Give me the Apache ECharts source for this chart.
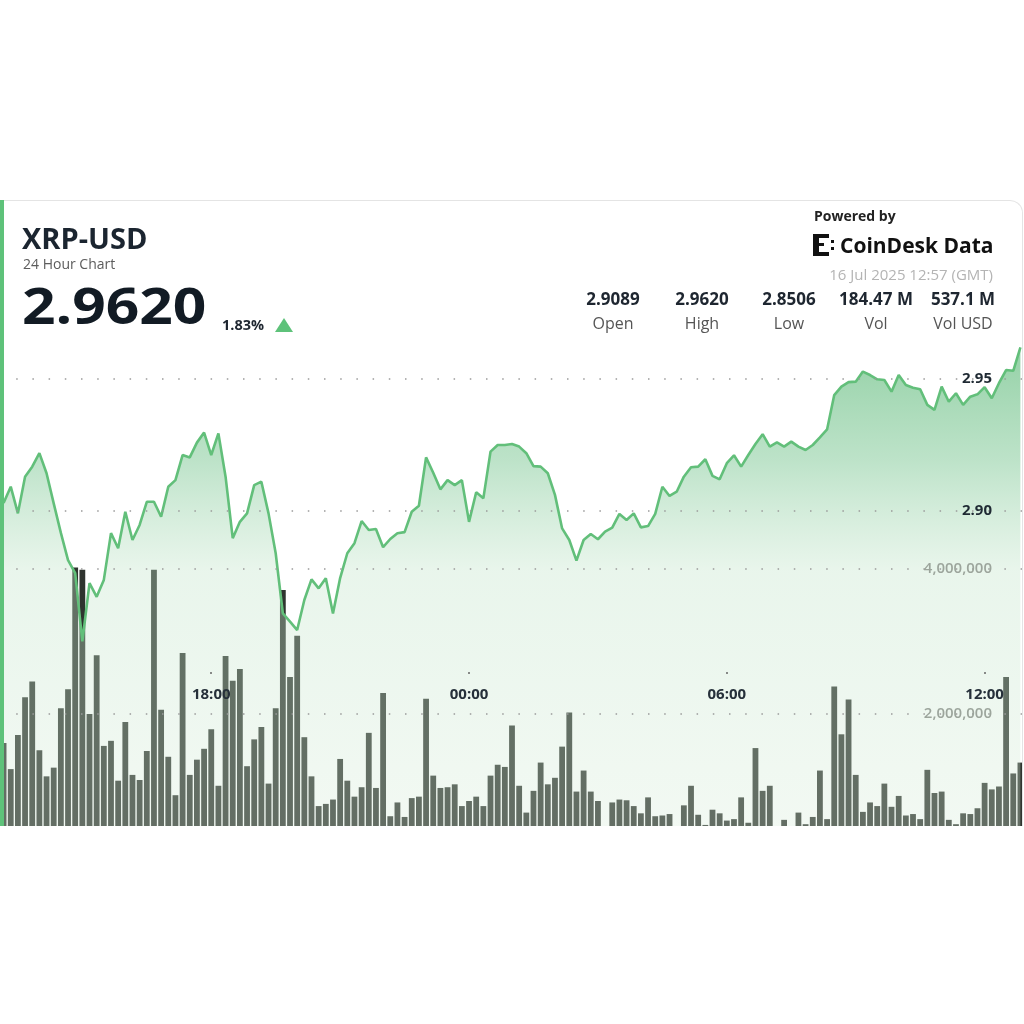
<!DOCTYPE html>
<html>
<head>
<meta charset="utf-8">
<title>XRP-USD 24 Hour Chart</title>
<script src="https://cdn.jsdelivr.net/npm/echarts@6/dist/echarts.min.js"></script>
<style>
    html, body {
        margin: 0;
        padding: 0;
        background: #ffffff;
    }
    .card {
        position: absolute;
        left: 0;
        top: 200px;
        width: 1022px;
        height: 626px;
        overflow: hidden;
        border-top-right-radius: 13px;
    }
    .card .chart-root {
        position: absolute;
        left: 0;
        top: -200px;
        width: 1024px;
        height: 1024px;
    }
    .frame {
        position: absolute;
        left: 0;
        top: 200px;
        width: 1023px;
        height: 626px;
        box-sizing: border-box;
        border-top: 1px solid #e4e4e4;
        border-right: 1px solid #e4e4e4;
        border-top-right-radius: 13px;
        pointer-events: none;
    }
    .stripe {
        position: absolute;
        left: 0;
        top: 200px;
        width: 4px;
        height: 626px;
        background: #5ec27a;
    }
</style>
</head>
<body>
<div class="card"><div class="chart-root" id="chart_dom"></div></div>
<div class="frame"></div>
<div class="stripe"></div>
<script>
// 10 minute candles, first one at 13:10 the day before
const startMinute = 13 * 60 + 10
const stepMinutes = 10

// close price of each 10 min slot
const prices = [
    2.9030, 2.9092, 2.8991, 2.9130, 2.9168, 2.9219, 2.9143, 2.9029, 2.8917, 2.8814,
    2.8765, 2.8506, 2.8727, 2.8675, 2.8739, 2.8916, 2.8859, 2.8997, 2.8890, 2.8947,
    2.9035, 2.9035, 2.8978, 2.9092, 2.9117, 2.9212, 2.9203, 2.9259, 2.9297, 2.9212,
    2.9294, 2.9130, 2.8897, 2.8959, 2.8991, 2.9098, 2.9111, 2.8991, 2.8840, 2.8612,
    2.8581, 2.8549, 2.8663, 2.8741, 2.8707, 2.8745, 2.8612, 2.8746, 2.8840, 2.8878,
    2.8962, 2.8928, 2.8932, 2.8863, 2.8894, 2.8916, 2.8920, 2.8997, 2.9020, 2.9203,
    2.9145, 2.9082, 2.9117, 2.9098, 2.9117, 2.8959, 2.9071, 2.9048, 2.9225, 2.9250,
    2.9250, 2.9254, 2.9244, 2.9219, 2.9170, 2.9168, 2.9143, 2.9061, 2.8934, 2.8890,
    2.8812, 2.8890, 2.8913, 2.8893, 2.8922, 2.8937, 2.8989, 2.8966, 2.8991, 2.8938,
    2.8943, 2.8989, 2.9092, 2.9057, 2.9073, 2.9130, 2.9166, 2.9168, 2.9196, 2.9133,
    2.9120, 2.9181, 2.9211, 2.9168, 2.9212, 2.9254, 2.9291, 2.9244, 2.9260, 2.9244,
    2.9263, 2.9244, 2.9231, 2.9250, 2.9279, 2.9309, 2.9439, 2.9471, 2.9488, 2.9490,
    2.9528, 2.9515, 2.9499, 2.9496, 2.9452, 2.9515, 2.9477, 2.9467, 2.9461, 2.9402,
    2.9383, 2.9471, 2.9414, 2.9446, 2.9402, 2.9433, 2.9442, 2.9469, 2.9427, 2.9484,
    2.9534, 2.9531, 2.9620,
]

// traded volume of each slot (XRP)
const volumes = [
    1600000, 1240000, 1710000, 2230000, 2450000, 1500000, 1140000, 1260000, 2080000, 2340000,
    4020000, 3990000, 2000000, 2810000, 1560000, 1630000, 1080000, 1890000, 1160000, 1090000,
    1490000, 3990000, 2060000, 1410000, 880000, 2840000, 1160000, 1370000, 1520000, 1790000,
    1010000, 2800000, 2460000, 2620000, 1280000, 1650000, 1820000, 1040000, 2080000, 3710000,
    2510000, 3080000, 1680000, 1140000, 730000, 760000, 820000, 1380000, 1080000, 860000,
    990000, 1740000, 980000, 2290000, 590000, 780000, 580000, 840000, 860000, 2210000,
    1150000, 980000, 990000, 1030000, 730000, 800000, 860000, 730000, 1150000, 1300000,
    1270000, 1840000, 1010000, 640000, 940000, 1330000, 1030000, 1120000, 1550000, 2020000,
    930000, 1220000, 930000, 800000, 400000, 780000, 820000, 810000, 730000, 630000,
    850000, 590000, 600000, 620000, 450000, 740000, 1010000, 610000, 470000, 680000,
    630000, 530000, 550000, 850000, 500000, 1530000, 940000, 1010000, 350000, 540000,
    400000, 640000, 480000, 580000, 1220000, 550000, 2380000, 1720000, 2200000, 1160000,
    650000, 780000, 730000, 1040000, 720000, 870000, 600000, 620000, 550000, 1230000,
    910000, 930000, 540000, 480000, 630000, 620000, 700000, 1050000, 960000, 1000000,
    2510000, 1180000, 1330000,
]

const timeLabels = ['18:00', '00:00', '06:00', '12:00']
const priceTicks = [2.90, 2.95]
const volumeTicks = [2000000, 4000000]

const statValues = ['2.9089', '2.9620', '2.8506', '184.47 M', '537.1 M']
const statLabels = ['Open', 'High', 'Low', 'Vol', 'Vol USD']

// slot times as category names
const times = volumes.map((v, i) => {
    const m = (startMinute + i * stepMinutes) % (24 * 60)
    const hh = String(Math.floor(m / 60)).padStart(2, '0')
    const mm = String(m % 60).padStart(2, '0')
    return hh + ':' + mm
})

const FONT = '"Open Sans", "Noto Sans", sans-serif'
const statX = [613, 702, 789, 876, 963]

function showTime(index, value) {
    return timeLabels.indexOf(value) !== -1
}

const header = [
    { type: 'text', x: 22, y: 241, style: { text: 'XRP-USD', font: 'bold 29px ' + FONT, fill: '#1b2530', textVerticalAlign: 'middle' } },
    { type: 'text', x: 23, y: 265, style: { text: '24 Hour Chart', font: '14px ' + FONT, fill: '#5c5c5c', textVerticalAlign: 'middle' } },
    {
        type: 'text', x: 22, y: 309, scaleX: 1.15, originX: 0, originY: 0,
        style: { text: '2.9620', font: 'bold 51px ' + FONT, fill: '#121b24', textVerticalAlign: 'middle' },
    },
    { type: 'text', x: 222, y: 326, style: { text: '1.83%', font: 'bold 14.5px ' + FONT, fill: '#1e2630', textVerticalAlign: 'middle' } },
    { type: 'polygon', shape: { points: [[275, 332], [293, 332], [284, 318]] }, style: { fill: '#5ec27a' } },
    { type: 'text', x: 814, y: 217, style: { text: 'Powered by', font: 'bold 14px ' + FONT, fill: '#222222', textVerticalAlign: 'middle' } },
    { type: 'rect', shape: { x: 813, y: 234, width: 6, height: 22 }, style: { fill: '#111111' } },
    { type: 'rect', shape: { x: 813, y: 234, width: 16, height: 4 }, style: { fill: '#111111' } },
    { type: 'rect', shape: { x: 813, y: 252, width: 16, height: 4 }, style: { fill: '#111111' } },
    { type: 'rect', shape: { x: 819, y: 243, width: 5, height: 3 }, style: { fill: '#111111' } },
    { type: 'rect', shape: { x: 831, y: 240, width: 3, height: 3 }, style: { fill: '#111111' } },
    { type: 'rect', shape: { x: 831, y: 247, width: 3, height: 3 }, style: { fill: '#111111' } },
    { type: 'text', x: 840, y: 247, style: { text: 'CoinDesk Data', font: 'bold 21px ' + FONT, fill: '#111111', textVerticalAlign: 'middle' } },
    { type: 'text', x: 993, y: 276, style: { text: '16 Jul 2025 12:57 (GMT)', font: '15px ' + FONT, fill: '#b4b4b4', textAlign: 'right', textVerticalAlign: 'middle' } },
]
statValues.forEach((t, i) => {
    header.push({ type: 'text', x: statX[i], y: 300, style: { text: t, font: 'bold 17px ' + FONT, fill: '#1e2630', textAlign: 'center', textVerticalAlign: 'middle' } })
    header.push({ type: 'text', x: statX[i], y: 324, style: { text: statLabels[i], font: '16px ' + FONT, fill: '#555555', textAlign: 'center', textVerticalAlign: 'middle' } })
})

const dotted = {
    color: '#9a9a9a',
    width: 1.5,
    type: [1.5, 14.7],
}

const option = {
    animation: false,
    backgroundColor: '#ffffff',
    graphic: header,
    grid: [
        { left: 0, right: 0, top: 424, bottom: 165 },
        { left: 0, right: 0, top: 247, bottom: 117 },
        { left: 0, right: 0, top: 300, bottom: 352 },
    ],
    xAxis: [
        { type: 'category', gridIndex: 0, data: times, show: false },
        { type: 'category', gridIndex: 1, data: times, show: false },
        {
            type: 'category',
            gridIndex: 2,
            data: times,
            z: 10,
            axisLine: { show: false },
            axisTick: {
                show: true,
                length: 2,
                alignWithLabel: true,
                interval: showTime,
                lineStyle: { color: '#666666', width: 1.5 },
            },
            axisLabel: {
                interval: showTime,
                margin: 15,
                color: '#26303a',
                fontFamily: FONT,
                fontWeight: 'bold',
                fontSize: 15,
            },
            splitLine: { show: false },
        },
    ],
    yAxis: [
        {
            type: 'value',
            gridIndex: 0,
            position: 'right',
            min: 0,
            max: 6000000,
            interval: 2000000,
            z: 10,
            axisLine: { show: false },
            axisTick: { show: false },
            splitLine: { show: false },
            axisLabel: {
                inside: true,
                margin: 32,
                color: '#9ca59c',
                fontFamily: FONT,
                fontWeight: 600,
                fontSize: 15,
                formatter: v => (volumeTicks.indexOf(v) !== -1 ? v.toLocaleString('en-US') : ''),
            },
        },
        {
            type: 'value',
            gridIndex: 1,
            position: 'right',
            min: 2.75,
            max: 3.0,
            interval: 0.05,
            z: 10,
            axisLine: { show: false },
            axisTick: { show: false },
            splitLine: { show: false },
            axisLabel: {
                inside: true,
                margin: 32,
                color: '#1f2a33',
                fontFamily: FONT,
                fontWeight: 'bold',
                fontSize: 15,
                formatter: v => (priceTicks.some(t => Math.abs(t - v) < 1e-6) ? v.toFixed(2) : ''),
            },
        },
        { type: 'value', gridIndex: 2, show: false },
    ],
    series: [
        {
            name: 'Vol',
            type: 'bar',
            xAxisIndex: 0,
            yAxisIndex: 0,
            z: 2,
            data: volumes,
            barWidth: 5.8,
            itemStyle: { color: '#2f342f' },
            markLine: {
                silent: true,
                symbol: ['none', 'none'],
                label: { show: false },
                lineStyle: dotted,
                data: volumeTicks.map(v => ({ yAxis: v })),
            },
        },
        {
            name: 'XRP-USD',
            type: 'line',
            xAxisIndex: 1,
            yAxisIndex: 1,
            z: 3,
            data: prices,
            symbol: 'none',
            lineStyle: { color: '#62bf7a', width: 2.6 },
            areaStyle: {
                color: {
                    type: 'linear',
                    x: 0,
                    y: 0,
                    x2: 0,
                    y2: 1,
                    colorStops: [
                        { offset: 0, color: 'rgba(80,180,110,0.88)' },
                        { offset: 0.2, color: 'rgba(115,195,140,0.68)' },
                        { offset: 0.4, color: 'rgba(192,228,200,0.5)' },
                        { offset: 0.85, color: 'rgba(213,235,215,0.45)' },
                        { offset: 1, color: 'rgba(213,235,215,0.45)' },
                    ],
                    global: false,
                },
            },
            markLine: {
                silent: true,
                symbol: ['none', 'none'],
                label: { show: false },
                lineStyle: dotted,
                data: priceTicks.map(v => ({ yAxis: v })),
            },
        },
    ],
}

const chart = echarts.init(document.getElementById('chart_dom'))
chart.setOption(option)
</script>
</body>
</html>
